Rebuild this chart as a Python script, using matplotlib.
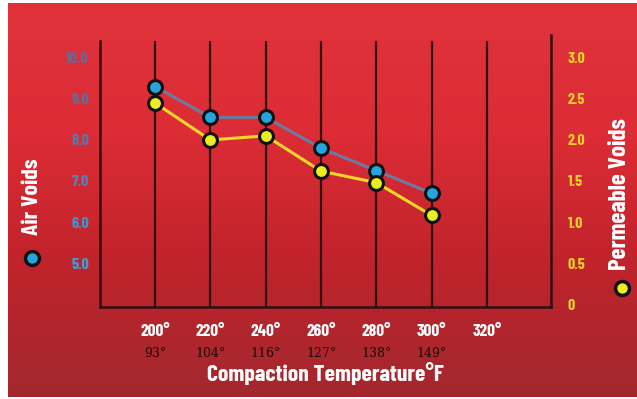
import numpy as np
import matplotlib.pyplot as plt
from matplotlib.colors import LinearSegmentedColormap

# data
temps_f = [200, 220, 240, 260, 280, 300, 320]
temps_c = [93, 104, 116, 127, 138, 149]
air_voids = [9.3, 8.55, 8.55, 7.8, 7.25, 6.7]
permeable_voids = [2.45, 2.0, 2.05, 1.62, 1.48, 1.08]
left_ticks = [5.0, 6.0, 7.0, 8.0, 9.0, 10.0]
right_ticks = [0, 0.5, 1.0, 1.5, 2.0, 2.5, 3.0]

W, H = 637, 399
fig = plt.figure(figsize=(W / 100, H / 100), dpi=100)
fig.patch.set_facecolor('white')

# red gradient background
bg = fig.add_axes([8 / W, 0.005, 1 - 8 / W, 1 - 3 / H - 0.005])
bg.axis('off')
cmap = LinearSegmentedColormap.from_list('bgred', ['#a3282e', '#c0232b', '#dc2c35', '#e0333b'])
grad = np.linspace(0, 1, 256).reshape(-1, 1)
bg.imshow(grad, cmap=cmap, aspect='auto', origin='lower', extent=[0, 1, 0, 1])

dark = '#2e0f12'
cond = ['Barlow Condensed', 'DejaVu Sans']

ax = fig.add_axes([100 / W, (H - 307) / H, (551 - 100) / W, (307 - 41) / H])
ax.patch.set_alpha(0)
ax.set_xlim(180.1, 343.1)
ax.set_ylim(3.93, 10.41)

# vertical grid lines
for t in temps_f:
    ax.axvline(t, color=dark, lw=1.6, zorder=1)

ax.spines['top'].set_visible(False)
for s in ['left', 'bottom', 'right']:
    ax.spines[s].set_color(dark)
    ax.spines[s].set_linewidth(1.8)
ax.spines['right'].set_bounds(3.93, 10.55)

ax.plot(temps_f[:len(air_voids)], air_voids, color='#6f7aa0', lw=2.2, marker='o',
        ms=10, mfc='#27a3dd', mec='#111111', mew=2.2, zorder=4)

ax.set_yticks(left_ticks)
ax.set_yticklabels([f'{v:.1f}' for v in left_ticks])
ax.tick_params(axis='y', length=0, pad=8)
left_cols = ['#3d9fd8', '#3f95cf', '#5185b8', '#5a78a6', '#5f6f9b', '#63689a']
for lab, c in zip(ax.get_yticklabels(), left_cols):
    lab.set_color(c)
    lab.set_family(cond)
    lab.set_fontweight('bold')
    lab.set_fontsize(11.5)

ax.set_xticks(temps_f)
ax.set_xticklabels([f'{t}°' for t in temps_f])
ax.tick_params(axis='x', length=0, pad=12)
for lab in ax.get_xticklabels():
    lab.set_color('white')
    lab.set_family(cond)
    lab.set_fontweight('bold')
    lab.set_fontsize(12.5)

for t, c in zip(temps_f, temps_c):
    ax.annotate(f'{c}°', xy=(t, 0), xycoords=('data', 'axes fraction'),
                xytext=(0, -29), textcoords='offset points', ha='center', va='top',
                fontsize=9, color='#1e0808', family='DejaVu Serif')

ax.set_xlabel('Compaction Temperature°F', color='white', fontsize=17,
              fontweight='bold', family=cond, labelpad=17)

ax2 = ax.twinx()
ax2.set_ylim((3.93 - 4) / 2, (10.41 - 4) / 2)
for s in ['top', 'left', 'bottom', 'right']:
    ax2.spines[s].set_visible(False)
ax2.plot(temps_f[:len(permeable_voids)], permeable_voids, color='#f2d62a', lw=2.2,
         marker='o', ms=10, mfc='#ecec22', mec='#111111', mew=2.2, zorder=3)
ax2.set_yticks(right_ticks)
ax2.set_yticklabels(['0'] + [f'{v:.1f}' for v in right_ticks[1:]])
ax2.tick_params(axis='y', length=0, pad=12)
for lab in ax2.get_yticklabels():
    lab.set_color('#f3cf2a')
    lab.set_family(cond)
    lab.set_fontweight('bold')
    lab.set_fontsize(11.5)

# side legends: rotated labels with a dot
fig.text(32 / W, 1 - 197 / H, 'Air Voids', rotation=90, color='white', fontsize=17,
         fontweight='bold', family=cond, ha='center', va='center')
fig.add_artist(plt.Line2D([32 / W], [1 - 258 / H], marker='o', ms=10, mfc='#27a3dd',
                          mec='#111111', mew=2.5, transform=fig.transFigure))
fig.text(620 / W, 1 - 194 / H, 'Permeable Voids', rotation=90, color='white', fontsize=18,
         fontweight='bold', family=cond, ha='center', va='center')
fig.add_artist(plt.Line2D([622 / W], [1 - 288 / H], marker='o', ms=10, mfc='#ecec22',
                          mec='#111111', mew=2.5, transform=fig.transFigure))

fig.savefig('out.png', dpi=100)
